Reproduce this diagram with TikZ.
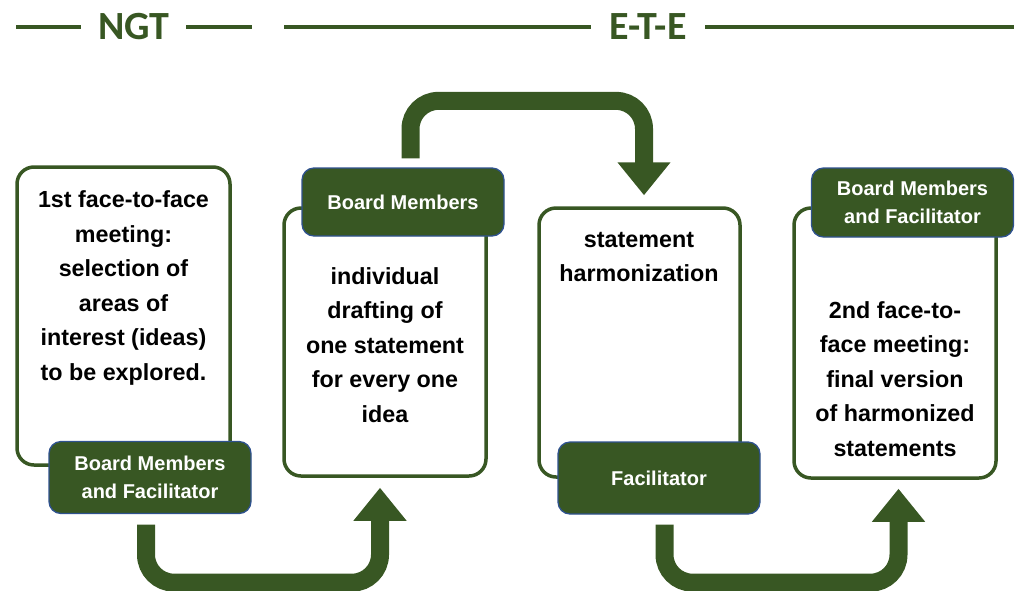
\documentclass[tikz,border=0pt]{standalone}
\usepackage{fontspec}
\setmainfont{Liberation Sans}
\newfontfamily\hdrfont{Carlito}
\usetikzlibrary{arrows.meta}
\definecolor{dgreen}{HTML}{385723}
\definecolor{lblue}{HTML}{2F528F}
\begin{document}
\begin{tikzpicture}[x=1pt,y=-1pt,
  box/.style={draw=dgreen, line width=3.5pt, fill=white, rounded corners=17pt, inner sep=0pt},
  lbl/.style={draw=lblue, line width=1.3pt, fill=dgreen, rounded corners=12pt, minimum width=202pt,
              inner sep=0pt, text=white, font=\bfseries\fontsize{20}{28}\selectfont, align=center},
  txt/.style={font=\bfseries\fontsize{23.3}{34.5}\selectfont, align=center, inner sep=0pt},
  flow/.style={draw=dgreen, line width=18pt, rounded corners=28pt, -{Triangle[width=51pt,length=33pt]}},
  hline/.style={draw=dgreen, line width=4.5pt},
  hdr/.style={text=dgreen, inner sep=0pt, font=\hdrfont\bfseries\fontsize{40}{48}\selectfont}]
\useasboundingbox (0,0) rectangle (1019,590);

% header
\draw[hline] (16,27) -- (81,27);
\draw[hline] (186,27) -- (252,27);
\draw[hline] (284,27) -- (591,27);
\draw[hline] (705,27) -- (1014,27);
\node[hdr] (ngt) at (134,27) {NGT};
\node[hdr] (ete) at (648,27) {E-T-E};

% boxes
\node[box, minimum width=213pt, minimum height=298pt] (B1) at (123.5,316) {};
\node[box, minimum width=202pt, minimum height=268pt] (B2) at (385,342) {};
\node[box, minimum width=201pt, minimum height=269pt] (B3) at (639.5,342.5) {};
\node[box, minimum width=202pt, minimum height=270pt] (B4) at (895,343) {};

% box texts
\node[txt] (T1) at (123.5,288) {1st face-to-face\\meeting:\\selection of\\areas of\\interest (ideas)\\to be explored.};
\node[txt] (T2) at (385,345) {individual\\drafting of\\one statement\\for every one\\idea};
\node[txt] (T3) at (639,257) {statement\\harmonization};
\node[txt] (T4) at (895,379) {2nd face-to-\\face meeting:\\final version\\of harmonized\\statements};

% labels
\node[lbl, minimum height=72pt] (L1) at (150,477.5) {Board Members\\and Facilitator};
\node[lbl, minimum height=68pt] (L2) at (403,202) {Board Members};
\node[lbl, minimum height=72pt] (L3) at (659,478) {Facilitator};
\node[lbl, minimum height=69pt] (L4) at (912.5,202.5) {Board Members\\and Facilitator};

% flow arrows
\draw[flow] ([xshift=-4pt,yshift=-10.5pt]L1.south) -- ++(0,58) -| ([xshift=-5pt,yshift=-10pt]B2.south);
\draw[flow] ([xshift=7.5pt,yshift=9pt]L2.north) -- ++(0,-57.5) -| ([xshift=4.5pt,yshift=11pt]B3.north);
\draw[flow] ([xshift=5.5pt,yshift=-10pt]L3.south) -- ++(0,58) -| ([xshift=3.5pt,yshift=-9pt]B4.south);
\end{tikzpicture}
\end{document}
